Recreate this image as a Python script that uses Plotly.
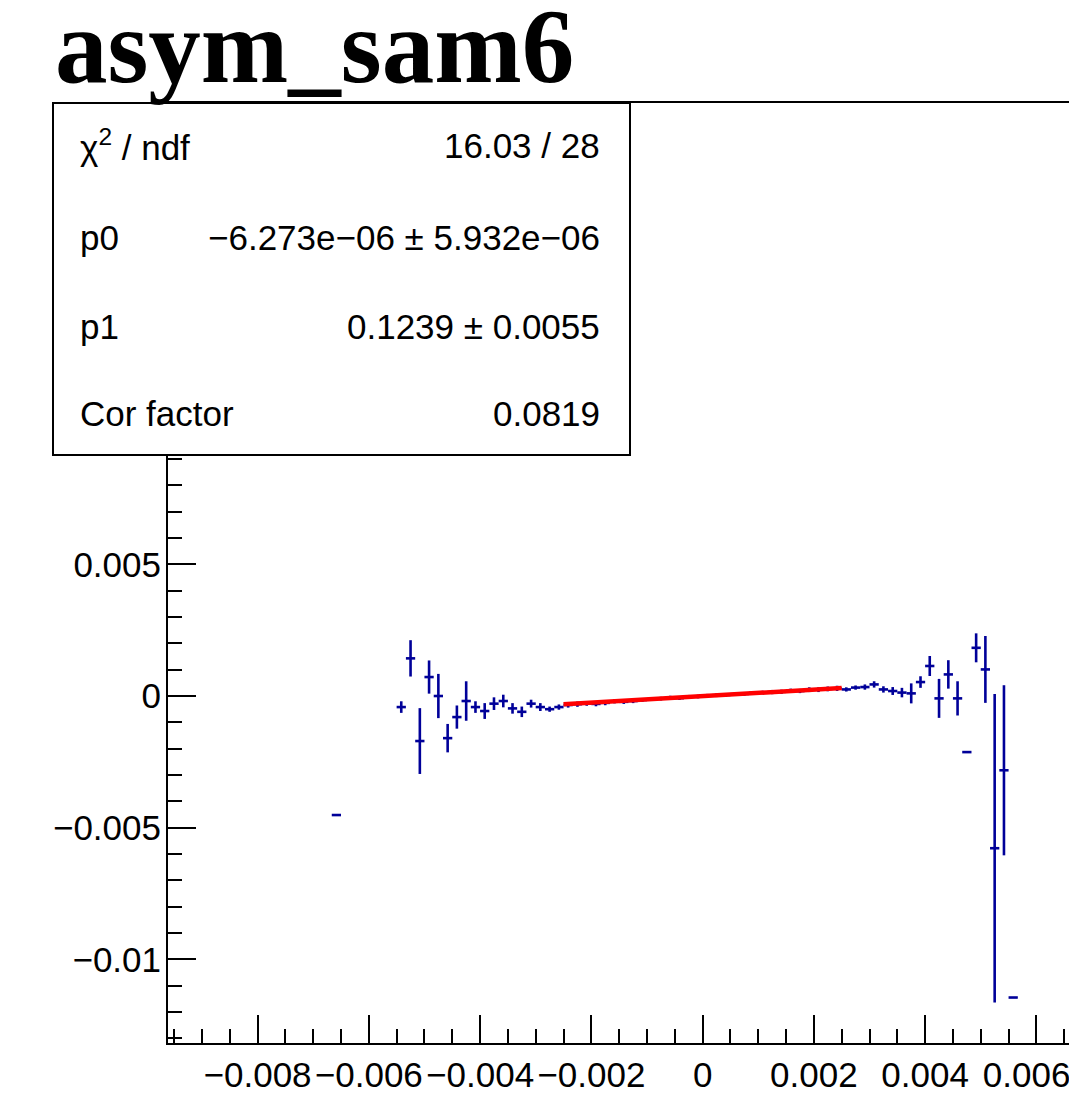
import plotly.graph_objects as go

# ---------------- data ----------------
title_text = "asym_sam6"
bin_width = 1.0 / 6000.0
bin_center = [-0.006583, -0.005417, -0.005250, -0.005083, -0.004917, -0.004750, -0.004583,
              -0.004417, -0.004250, -0.004083, -0.003917, -0.003750, -0.003583, -0.003417,
              -0.003250, -0.003083, -0.002917, -0.002750, -0.002583,
              -0.002417, -0.002250, -0.002083, -0.001917, -0.001750, -0.001583, -0.001417,
              -0.001250, -0.001083, -0.000917, -0.000750, -0.000583, -0.000417, -0.000250,
              -0.000083, 0.000083, 0.000250, 0.000417, 0.000583, 0.000750, 0.000917,
              0.001083, 0.001250, 0.001417, 0.001583, 0.001750, 0.001917, 0.002083,
              0.002250, 0.002417,
              0.002583, 0.002750, 0.002917, 0.003083, 0.003250, 0.003417, 0.003583,
              0.003750, 0.003917, 0.004083, 0.004250, 0.004417, 0.004583, 0.004750,
              0.004917, 0.005083, 0.005250, 0.005417, 0.005583]
asym_value = [-0.00452, -0.00042, 0.00143, -0.00171, 0.00072, 0.00000, -0.00160, -0.00080,
              -0.00019, -0.00042, -0.00057, -0.00029, -0.00019, -0.00047, -0.00060, -0.00029,
              -0.00042, -0.00050, -0.00042,
              -0.00034, -0.00031, -0.00028, -0.00030, -0.00026, -0.00020, -0.00022, -0.00019,
              -0.00015, -0.00012, -0.00010, -0.00006, -0.00008, -0.00003, -0.00002, 0.00001,
              0.00003, 0.00004, 0.00007, 0.00008, 0.00012, 0.00013, 0.00015, 0.00016,
              0.00020, 0.00019, 0.00024, 0.00024, 0.00027, 0.00029,
              0.00025, 0.00032, 0.00034, 0.00044, 0.00025, 0.00019, 0.00013, 0.00010,
              0.00053, 0.00114, -0.00009, 0.00082, -0.00009, -0.00213, 0.00183, 0.00101,
              -0.00578, -0.00282, -0.01145]
asym_error = [0.0, 0.00022, 0.00069, 0.00125, 0.00063, 0.00084, 0.00054, 0.00044,
              0.00075, 0.00022, 0.00030, 0.00024, 0.00024, 0.00020, 0.00020, 0.00015,
              0.00015, 0.00010, 0.00010,
              0.00010, 0.00010, 0.00009, 0.00009, 0.00009, 0.00008, 0.00008, 0.00008,
              0.00007, 0.00007, 0.00007, 0.00007, 0.00007, 0.00007, 0.00007, 0.00007,
              0.00007, 0.00007, 0.00007, 0.00007, 0.00007, 0.00007, 0.00008, 0.00008,
              0.00008, 0.00008, 0.00009, 0.00009, 0.00009, 0.00010,
              0.00008, 0.00008, 0.00010, 0.00012, 0.00012, 0.00015, 0.00018, 0.00038,
              0.00022, 0.00038, 0.00074, 0.00054, 0.00065, 0.0, 0.00055, 0.00127,
              0.00586, 0.00323, 0.0]

fit_p0 = -6.273e-06
fit_p1 = 0.1239
fit_range = [-0.0025, 0.0025]

stats_labels = ["χ<sup>2</sup> / ndf", "p0", "p1", "Cor factor"]
stats_values = ["16.03 / 28", "−6.273e−06 ± 5.932e−06", "0.1239 ± 0.0055", "0.0819"]

x_tick_vals = [-0.008, -0.006, -0.004, -0.002, 0.0, 0.002, 0.004, 0.006]
x_tick_text = ["−0.008", "−0.006", "−0.004", "−0.002", "0", "0.002", "0.004",
               "0.006\u00a0\u00a0"]

x_range = [-0.00961, 0.00673]
y_range = [-0.013177, 0.02252]

# ---------------- layout helpers ----------------
# the page body adds an 8 px offset; figure coordinates = page coordinates - 8
OFF = 8
W, H = 1077 - OFF, 1105 - 2 * OFF
L, R, T, B = 168 - OFF, 0, 103 - OFF, (1105 - 2 * OFF) - (1043 - OFF)
PW, PH = W - L - R, H - T - B


def xp(px):
    return (px - OFF - L) / PW


def yp(py):
    return (H - B - (py - OFF)) / PH


BLUE = "#000099"
FONT = "Liberation Sans, Arial, Helvetica, sans-serif"

fig = go.Figure()

fig.add_trace(go.Scatter(
    x=bin_center, y=asym_value, mode="markers",
    marker=dict(size=1, color=BLUE, opacity=0),
    error_y=dict(type="data", array=asym_error, width=0, thickness=2.6, color=BLUE),
    error_x=dict(type="constant", value=bin_width / 2, width=0, thickness=2.6, color=BLUE),
    showlegend=False, hoverinfo="skip",
))

fit_x = fit_range
fit_y = [fit_p0 + fit_p1 * v for v in fit_x]
fig.add_trace(go.Scatter(
    x=fit_x, y=fit_y, mode="lines",
    line=dict(color="#ff0000", width=4.5),
    showlegend=False, hoverinfo="skip",
))

fig.update_layout(
    width=W, height=H,
    margin=dict(l=L, r=R, t=T, b=B, pad=0, autoexpand=False),
    paper_bgcolor="white", plot_bgcolor="white",
    font=dict(family=FONT, color="black", size=34),
    xaxis=dict(
        range=x_range, showgrid=False, zeroline=False,
        showline=True, linecolor="black", linewidth=2, mirror=True,
        ticks="inside", ticklen=28, tickwidth=2, tickcolor="black",
        tickmode="array", tickvals=x_tick_vals, ticktext=x_tick_text, tickangle=0,
        minor=dict(tickmode="linear", dtick=0.0005, tick0=0, ticks="inside", ticklen=14,
                   tickwidth=2, tickcolor="black", showgrid=False),
        tickfont=dict(size=35, family=FONT),
        ticklabelstandoff=0,
        ticklabeloverflow="allow",
    ),
    yaxis=dict(
        range=y_range, showgrid=False, zeroline=False,
        showline=True, linecolor="black", linewidth=2, mirror=False,
        ticks="inside", ticklen=28, tickwidth=2, tickcolor="black",
        dtick=0.005, tick0=0,
        minor=dict(dtick=0.001, tick0=0, ticks="inside", ticklen=14,
                   tickwidth=2, tickcolor="black", showgrid=False),
        tickfont=dict(size=35, family=FONT),
        ticklabelstandoff=-2,
        ticklabeloverflow="allow",
    ),
)

# stats box
fig.add_shape(type="rect", xref="paper", yref="paper",
              x0=xp(53), x1=xp(630), y0=yp(455), y1=yp(103),
              line=dict(color="black", width=2), fillcolor="white", layer="above")

row_y = [145, 238, 326, 413]
for lab, val, ry in zip(stats_labels, stats_values, row_y):
    fig.add_annotation(xref="paper", yref="paper", x=xp(78), y=yp(ry),
                       xanchor="left", yanchor="middle", text=lab, showarrow=False,
                       font=dict(size=35, family=FONT, color="black"))
    fig.add_annotation(xref="paper", yref="paper", x=xp(602), y=yp(ry),
                       xanchor="right", yanchor="middle", text=val, showarrow=False,
                       font=dict(size=35, family=FONT, color="black"))

# title
fig.add_annotation(xref="paper", yref="paper", x=xp(53), y=yp(47),
                   xanchor="left", yanchor="middle", text="<b>" + title_text + "</b>",
                   showarrow=False,
                   font=dict(size=105, family="Liberation Serif, Times New Roman, serif",
                             color="black"))

fig.write_html("out.html")
